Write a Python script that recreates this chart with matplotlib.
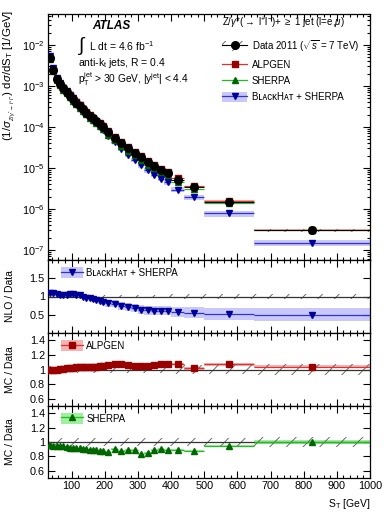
import numpy as np
import matplotlib
matplotlib.use('Agg')
import matplotlib.pyplot as plt
from matplotlib.patches import Patch
from matplotlib.lines import Line2D
from matplotlib.legend_handler import HandlerTuple
from matplotlib.ticker import (MultipleLocator, LogLocator, FixedLocator, NullFormatter,
                               LogFormatterSciNotation)

plt.rcParams['font.family'] = ['Liberation Sans', 'DejaVu Sans']
plt.rcParams['mathtext.fontset'] = 'custom'
plt.rcParams['mathtext.rm'] = 'Liberation Sans'
plt.rcParams['mathtext.it'] = 'Liberation Sans:italic'
plt.rcParams['mathtext.bf'] = 'Liberation Sans:bold'
plt.rcParams['hatch.linewidth'] = 0.6

# ---------------- data ----------------
bin_edges = [30, 40, 50, 60, 70, 80, 90, 100, 110, 120, 130, 140, 150, 160, 170, 180, 190, 200,
             220, 240, 260, 280, 300, 320, 340, 360, 380, 400, 440, 500, 650, 1000]
data_xsec = [4.8e-3, 2.5e-3, 1.45e-3, 1.1e-3, 8.7e-4, 7.1e-4, 5.75e-4, 4.7e-4, 3.9e-4, 3.25e-4,
             2.7e-4, 2.25e-4, 1.9e-4, 1.62e-4, 1.38e-4, 1.17e-4, 1.0e-4, 7.6e-5, 5.4e-5, 4.0e-5,
             3.0e-5, 2.35e-5, 1.82e-5, 1.41e-5, 1.12e-5, 8.9e-6, 7.4e-6, 5.2e-6, 3.5e-6, 1.5e-6, 3.0e-7]
data_unc = [0.05, 0.05, 0.05, 0.05, 0.05, 0.05, 0.05, 0.05, 0.05, 0.05, 0.05, 0.05, 0.05, 0.05,
            0.05, 0.05, 0.05, 0.05, 0.05, 0.05, 0.05, 0.05, 0.05, 0.05, 0.05, 0.05, 0.05, 0.06,
            0.06, 0.06, 0.07]
ratio_blackhat = [1.10, 1.09, 1.07, 1.05, 1.04, 1.05, 1.07, 1.08, 1.05, 1.03, 1.00, 0.97, 0.95,
                  0.92, 0.90, 0.87, 0.85, 0.81, 0.80, 0.74, 0.70, 0.68, 0.64, 0.62, 0.61, 0.61,
                  0.61, 0.57, 0.55, 0.52, 0.50]
unc_blackhat = [0.06, 0.06, 0.06, 0.06, 0.06, 0.07, 0.07, 0.07, 0.07, 0.07, 0.07, 0.08, 0.08,
                0.08, 0.08, 0.08, 0.09, 0.10, 0.10, 0.10, 0.11, 0.11, 0.12, 0.12, 0.12, 0.13,
                0.13, 0.14, 0.15, 0.16, 0.18]
ratio_alpgen = [0.99, 1.00, 1.00, 1.01, 1.01, 1.02, 1.02, 1.02, 1.03, 1.03, 1.03, 1.04, 1.04,
                1.04, 1.04, 1.05, 1.05, 1.06, 1.07, 1.07, 1.06, 1.05, 1.05, 1.05, 1.06, 1.07,
                1.07, 1.07, 1.02, 1.07, 1.04]
unc_alpgen = [0.015] * 28 + [0.02, 0.02, 0.02]
ratio_sherpa = [0.96, 0.95, 0.95, 0.95, 0.94, 0.93, 0.92, 0.92, 0.91, 0.91, 0.90, 0.90, 0.89,
                0.89, 0.89, 0.88, 0.88, 0.86, 0.90, 0.88, 0.89, 0.89, 0.84, 0.85, 0.89, 0.90,
                0.89, 0.89, 0.88, 0.94, 1.00]
unc_sherpa = [0.01] * 28 + [0.015, 0.015, 0.025]
main_yticks = [1e-7, 1e-6, 1e-5, 1e-4, 1e-3, 1e-2]

# ---------------- colours ----------------
c_alp, c_alp_line, c_alp_band = '#990000', '#e03030', '#f6b3b3'
c_she, c_she_line, c_she_band = '#006600', '#22bb22', '#9ef09e'
c_bh, c_bh_line, c_bh_band = '#000099', '#3333cc', '#c8c8fa'

edges = np.array(bin_edges, float)
lo, hi = edges[:-1], edges[1:]
cent = 0.5 * (lo + hi)
xerr = 0.5 * (hi - lo)
dat = np.array(data_xsec)
dunc = np.array(data_unc)

fig = plt.figure(figsize=(3.9, 5.2), dpi=100)
L, W = 48.3 / 390, (370 - 48.3) / 390
def fpos(top, bot):
    return [L, 1 - bot / 520, W, (bot - top) / 520]

ax0 = fig.add_axes(fpos(14, 260))
ax1 = fig.add_axes(fpos(260, 333))
ax2 = fig.add_axes(fpos(333, 406))
ax3 = fig.add_axes(fpos(406, 478))

def boxes(ax, y0, y1, **kw):
    for a, b, l, h in zip(lo, hi, y0, y1):
        ax.fill_between([a, b], [l, l], [h, h], **kw)

# ---------------- main panel ----------------
bh = dat * np.array(ratio_blackhat)
alp = dat * np.array(ratio_alpgen)
she = dat * np.array(ratio_sherpa)
ubh = np.array(unc_blackhat)
boxes(ax0, bh * (1 - ubh), bh * (1 + ubh), color=c_bh_band, lw=0, zorder=1)
boxes(ax0, alp * (1 - np.array(unc_alpgen)), alp * (1 + np.array(unc_alpgen)), color=c_alp_band, lw=0, zorder=1.5)
boxes(ax0, she * (1 - np.array(unc_sherpa)), she * (1 + np.array(unc_sherpa)), color=c_she_band, lw=0, zorder=1.5)
boxes(ax0, dat * (1 - dunc), dat * (1 + dunc), facecolor='none', edgecolor='#555555', hatch='//', lw=0, zorder=2)
ax0.errorbar(cent, bh, xerr=xerr, fmt='v', color=c_bh_line, mfc=c_bh, mec=c_bh, ms=5, lw=0.9, capsize=0, zorder=3)
ax0.errorbar(cent, she, xerr=xerr, fmt='^', color=c_she_line, mfc=c_she, mec=c_she, ms=5, lw=0.9, capsize=0, zorder=3.2)
ax0.errorbar(cent, alp, xerr=xerr, fmt='s', color=c_alp_line, mfc=c_alp, mec=c_alp, ms=5, lw=0.9, capsize=0, zorder=3.4)
ax0.errorbar(cent, dat, xerr=xerr, fmt='o', color='black', ms=5.5, lw=0.7, capsize=0, zorder=5)
ax0.set_yscale('log')
ax0.set_ylim(5.7e-8, 5.7e-2)
ax0.yaxis.set_major_locator(FixedLocator(main_yticks))
ax0.yaxis.set_major_formatter(LogFormatterSciNotation())
minor_t = [m * 10.0 ** e for e in range(-8, -1) for m in range(2, 10) if 5.7e-8 <= m * 10.0 ** e <= 5.7e-2]
ax0.yaxis.set_minor_locator(FixedLocator(minor_t))
ax0.yaxis.set_minor_formatter(NullFormatter())
fig.text(10 / 390, 1 - 10 / 520,
         r'(1/$\sigma_{{}_{Z/\gamma^{*}\rightarrow l^{+}l^{-}}}$) d$\sigma$/dS$_\mathrm{T}$ [1/GeV]',
         fontsize=8.2, rotation=90, ha='center', va='top')

# texts
ax0.text(92 / 390, 1 - 26 / 520, 'ATLAS', transform=fig.transFigure, fontsize=8.5, fontweight='bold',
         fontstyle='italic', va='center', ha='left')
ax0.text(78 / 390, 1 - 46 / 520, r'$\int$', transform=fig.transFigure, fontsize=14, va='center', ha='left',
         family=['DejaVu Sans'])
ax0.text(89 / 390, 1 - 46 / 520, r'L dt = 4.6 fb$^{-1}$', transform=fig.transFigure, fontsize=7.5, va='center', ha='left')
ax0.text(78 / 390, 1 - 63 / 520, r'anti-k$_\mathrm{t}$ jets, R = 0.4', transform=fig.transFigure, fontsize=7.5, va='center', ha='left')
ax0.text(78 / 390, 1 - 79 / 520, r'p$_\mathrm{T}^\mathrm{jet}$ > 30 GeV, |y$^\mathrm{jet}$| < 4.4', transform=fig.transFigure,
         fontsize=7.3, va='center', ha='left')
ax0.text(222 / 390, 1 - 23 / 520, r'Z/$\gamma$*($\rightarrow$ l$^{+}$l$^{-}$)+ $\geq$ 1 jet (l=e,$\mu$)', transform=fig.transFigure,
         fontsize=7, va='center', ha='left')

h_data = (Patch(facecolor='none', edgecolor='#555555', hatch='//', lw=0),
          Line2D([], [], color='black', marker='o', ms=5.5, lw=0.8))
h_alp = Line2D([], [], color=c_alp_line, marker='s', mfc=c_alp, mec=c_alp, ms=5, lw=0.9)
h_she = Line2D([], [], color=c_she_line, marker='^', mfc=c_she, mec=c_she, ms=5, lw=0.9)
h_bh = (Patch(facecolor=c_bh_band, lw=0),
        Line2D([], [], color=c_bh_line, marker='v', mfc=c_bh, mec=c_bh, ms=5, lw=0.9))
BH_LABEL = 'B\u029f\u1d00\u1d04\u1d0bH\u1d00\u1d1b + SHERPA'
leg = ax0.legend([h_data, h_alp, h_she, h_bh],
                 [r'Data 2011 ($\sqrt{s}$ = 7 TeV)', 'ALPGEN', 'SHERPA', BH_LABEL],
                 handler_map={tuple: HandlerTuple(ndivide=1)}, loc='upper left',
                 bbox_to_anchor=(222 / 390, 1 - 38 / 520), bbox_transform=fig.transFigure,
                 frameon=False, fontsize=7, borderpad=0, borderaxespad=0, labelspacing=0.62,
                 handlelength=2.6, handleheight=1.2, handletextpad=0.45)
for t in leg.get_texts():
    t.set_family(['Liberation Sans', 'DejaVu Sans'])

# ---------------- ratio panels ----------------
def ratio_panel(ax, ratio, unc, mk, cline, cmark, cband, label, ylim, yticks):
    r = np.array(ratio)
    u = np.array(unc)
    boxes(ax, r - u, r + u, color=cband, lw=0, zorder=1)
    boxes(ax, 1 - dunc, 1 + dunc, facecolor='none', edgecolor='#555555', hatch='//', lw=0, zorder=2)
    ax.axhline(1, color='#333333', lw=0.9, zorder=2.5)
    ax.errorbar(cent, r, xerr=xerr, fmt=mk, color=cline, mfc=cmark, mec=cmark, ms=5, lw=0.9, capsize=0, zorder=3)
    ax.set_ylim(*ylim)
    ax.yaxis.set_major_locator(FixedLocator(yticks))
    ax.set_yticklabels([('%g' % v) for v in yticks])
    h = (Patch(facecolor=cband, lw=0), Line2D([], [], color=cline, marker=mk, mfc=cmark, mec=cmark, ms=5, lw=0.9))
    lg = ax.legend([h], [label], handler_map={tuple: HandlerTuple(ndivide=1)}, loc='upper left',
                   bbox_to_anchor=(0.04, 0.9), frameon=False, fontsize=7, borderpad=0, borderaxespad=0,
                   handlelength=2.2, handleheight=1.3, handletextpad=0.4)
    for t in lg.get_texts():
        t.set_family(['Liberation Sans', 'DejaVu Sans'])

ratio_panel(ax1, ratio_blackhat, unc_blackhat, 'v', c_bh_line, c_bh, c_bh_band, BH_LABEL, (0.0, 2.0), [0.5, 1, 1.5])
ratio_panel(ax2, ratio_alpgen, unc_alpgen, 's', c_alp_line, c_alp, c_alp_band, 'ALPGEN', (0.5, 1.5), [0.6, 0.8, 1, 1.2, 1.4])
ratio_panel(ax3, ratio_sherpa, unc_sherpa, '^', c_she_line, c_she, c_she_band, 'SHERPA', (0.5, 1.5), [0.6, 0.8, 1, 1.2, 1.4])
ax1.set_ylabel('NLO / Data', fontsize=7.5)
ax2.set_ylabel('MC / Data', fontsize=7.5)
ax3.set_ylabel('MC / Data', fontsize=7.5)
for a in (ax1, ax2, ax3):
    a.yaxis.set_label_coords(-0.105, 0.5)

for a in (ax0, ax1, ax2, ax3):
    a.set_xlim(30, 1000)
    a.xaxis.set_major_locator(MultipleLocator(100))
    a.xaxis.set_minor_locator(MultipleLocator(20))
    a.tick_params(which='both', direction='in', top=True, right=True, labelsize=7.8, width=0.8, pad=2.5)
    a.tick_params(which='major', length=5)
    a.tick_params(which='minor', length=2.5)
    for s in a.spines.values():
        s.set_linewidth(0.9)
    if a is not ax3:
        a.tick_params(labelbottom=False)
ax3.set_xticks(range(100, 1001, 100))
ax3.set_xticklabels([str(v) for v in range(100, 1001, 100)])
ax3.set_xlabel(r'S$_\mathrm{T}$ [GeV]', fontsize=7.5, loc='right', labelpad=4)

fig.savefig('out.png', dpi=100)
